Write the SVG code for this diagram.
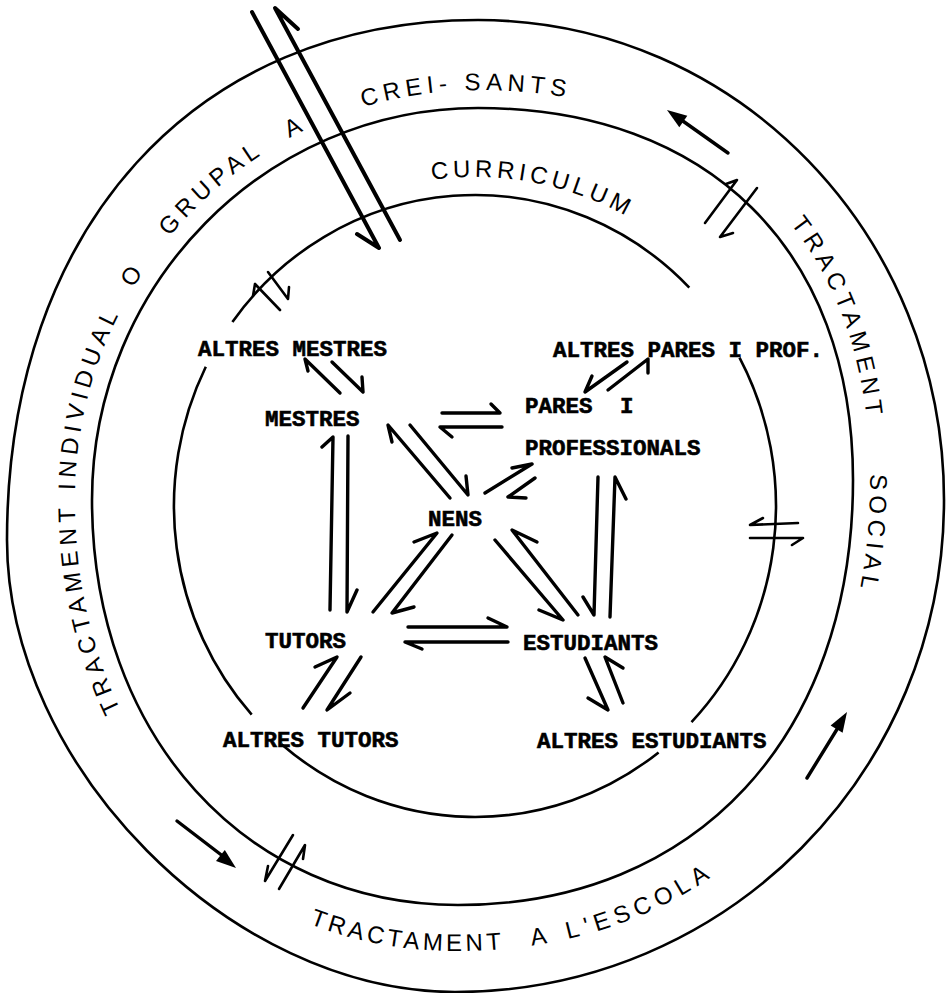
<svg xmlns="http://www.w3.org/2000/svg" width="947" height="993" viewBox="0 0 947 993">
<style>
.ring{fill:none;stroke:#000;stroke-width:2.6}
.lbl{font-family:"Liberation Mono","Courier New",monospace;font-weight:bold;font-size:22.5px;fill:#000;stroke:#000;stroke-width:0.6}
.rt{font-family:"Liberation Sans",Arial,sans-serif;font-size:24px;fill:#000;letter-spacing:5.2px}
.ar{fill:none;stroke:#000;stroke-width:3.4;stroke-linecap:round;stroke-linejoin:round}
.ar2{fill:none;stroke:#000;stroke-width:2.6;stroke-linecap:round;stroke-linejoin:round}
.big{fill:none;stroke:#000;stroke-width:4;stroke-linecap:round;stroke-linejoin:round}
.fa{stroke:#000;stroke-width:3.4;fill:none;stroke-linecap:round}
.fh{fill:#000}
</style>
<defs>
<path id="ringA" d="M 457.4 923 C 235.8 923 74.9 745.3 74.9 499.7 C 74.9 274 256.7 90.1 478.3 90.1 C 718.6 90.1 870.1 238.5 870.1 478.8 C 870.1 745.3 707.1 923 457.4 923"/>
<path id="ringB" d="M 48.3 499.3 C 48.3 761.3 220 950.9 456.4 950.9 C 722.9 950.9 896.8 761.3 896.8 477"/>
<path id="ringC" d="M 175.2 393.5 A 319 329 0 0 1 774.8 393.5"/>
</defs>
<rect width="947" height="993" fill="#fff"/>
<g id="rings">
<path id="outer-ring" class="ring" d="M 478 20 C 737 20 944 235 944 500 C 944 772 727 992 455 992 C 231 992 7 766 7 540 C 7 228 195 20 478 20 Z"/>
<path id="middle-ring" class="ring" d="M 478 108 C 708 108 853 250 853 480 C 853 735 697 905 458 905 C 246 905 92 735 92 500 C 92 284 266 108 478 108 Z"/>
<g id="inner-ring" class="ring">
<path d="M 689.3 287.6 A 301 311 0 0 0 232.4 321.9"/>
<path d="M 205.8 366.7 A 301 311 0 0 0 251.7 714.6"/>
<path d="M 281.5 744.2 A 301 311 0 0 0 658.6 752.4"/>
<path d="M 691.5 722.1 A 301 311 0 0 0 739.5 357.6"/>
</g>
</g>
<g id="ring-labels">
<text class="rt"><textPath href="#ringA" startOffset="528" text-anchor="middle">TRACTAMENT</textPath></text>
<text class="rt"><textPath href="#ringA" startOffset="741" text-anchor="middle">INDIVIDUAL</textPath></text>
<text class="rt"><textPath href="#ringA" startOffset="872" text-anchor="middle">O</textPath></text>
<text class="rt"><textPath href="#ringA" startOffset="987" text-anchor="middle">GRUPAL</textPath></text>
<text class="rt"><textPath href="#ringA" startOffset="1090" text-anchor="middle">A</textPath></text>
<text class="rt"><textPath href="#ringA" startOffset="1264" text-anchor="middle">CREI- SANTS</textPath></text>
<text class="rt"><textPath href="#ringA" startOffset="1735" text-anchor="middle">TRACTAMENT</textPath></text>
<text class="rt"><textPath href="#ringA" startOffset="1955" text-anchor="middle">SOCIAL</textPath></text>
<text class="rt" style="letter-spacing:4.3px"><textPath href="#ringC" startOffset="453" text-anchor="middle">CURRICULUM</textPath></text>
<text class="rt" style="letter-spacing:3.7px"><textPath href="#ringB" startOffset="630" text-anchor="middle">TRACTAMENT</textPath></text>
<text class="rt"><textPath href="#ringB" startOffset="767" text-anchor="middle">A</textPath></text>
<text class="rt" style="letter-spacing:5.8px"><textPath href="#ringB" startOffset="874" text-anchor="middle">L'ESCOLA</textPath></text>
</g>
<g id="node-altres-mestres"><text class="lbl" x="198" y="356">ALTRES MESTRES</text></g>
<g id="node-mestres"><text class="lbl" x="265" y="426">MESTRES</text></g>
<g id="node-altres-pares"><text class="lbl" x="553" y="357">ALTRES PARES I PROF.</text></g>
<g id="node-pares"><text class="lbl" x="525" y="413">PARES<tspan x="620">I</tspan></text><text class="lbl" x="525" y="455">PROFESSIONALS</text></g>
<g id="node-nens"><text class="lbl" x="428" y="526">NENS</text></g>
<g id="node-tutors"><text class="lbl" x="265" y="648">TUTORS</text></g>
<g id="node-estudiants"><text class="lbl" x="523" y="650">ESTUDIANTS</text></g>
<g id="node-altres-tutors"><text class="lbl" x="223" y="747">ALTRES TUTORS</text></g>
<g id="node-altres-estudiants"><text class="lbl" x="537" y="748">ALTRES ESTUDIANTS</text></g>
<g id="connectors">
<path class="ar" d="M 340 393 L 305 359 L 308 371"/>
<path class="ar" d="M 332 362 L 363 392 L 362 377"/>
<path class="ar" d="M 442 413 L 500 413 L 491 404"/>
<path class="ar" d="M 502 427 L 440 427 L 452 437"/>
<path class="ar" d="M 450 498 L 388 425 L 392 442"/>
<path class="ar" d="M 410 425 L 468 495 L 466 476"/>
<path class="ar" d="M 485 493 L 532 464 L 512 468"/>
<path class="ar" d="M 535 478 L 508 497 L 526 498"/>
<path class="ar" d="M 330 610 L 333 437 L 322 447"/>
<path class="ar" d="M 348 436 L 347 612 L 357 590"/>
<path class="ar" d="M 373 612 L 437 533 L 414 542"/>
<path class="ar" d="M 452 535 L 392 613 L 414 607"/>
<path class="ar" d="M 408 627 L 507 627 L 488 618"/>
<path class="ar" d="M 508 642 L 405 642 L 422 649"/>
<path class="ar" d="M 495 540 L 563 620 L 539 610"/>
<path class="ar" d="M 578 615 L 512 530 L 537 542"/>
<path class="ar" d="M 598 477 L 594 615 L 583 597"/>
<path class="ar" d="M 610 617 L 615 477 L 626 499"/>
<path class="ar" d="M 585 658 L 608 710 L 588 698"/>
<path class="ar" d="M 623 703 L 605 657 L 623 668"/>
<path class="ar" d="M 303 708 L 337 657 L 315 667"/>
<path class="ar" d="M 361 657 L 327 710 L 350 693"/>
<path class="ar" d="M 627 362 L 585 392 L 592 376"/>
<path class="ar" d="M 608 390 L 648 359 L 648 373"/>
<path class="big" d="M 252 12 L 379 248 L 357 234"/>
<path class="big" d="M 400 240 L 275 8 L 298 29"/>
<path class="ar2" d="M 280 310 L 255 284 L 253 296"/>
<path class="ar2" d="M 268 272 L 288 299 L 289 287"/>
<path class="ar2" d="M 705 223 L 737 180 L 726 184"/>
<path class="ar2" d="M 757 188 L 720 237 L 733 233"/>
<path class="ar2" d="M 798 523 L 750 525 L 763 518"/>
<path class="ar2" d="M 750 538 L 803 538 L 792 545"/>
<path class="ar2" d="M 293 835 L 265 881 L 268 866"/>
<path class="ar2" d="M 279 889 L 305 845 L 303 859"/>
<line class="fa" x1="728" y1="153" x2="680" y2="119"/>
<polygon class="fh" points="667,110 687.3,115.8 679.3,127.2"/>
<line class="fa" x1="807" y1="778" x2="839" y2="726"/>
<polygon class="fh" points="847,712 842.6,732.7 830.6,725.5"/>
<line class="fa" x1="177" y1="821" x2="224" y2="857"/>
<polygon class="fh" points="236,868 216,861 224.8,850"/>
</g>
</svg>
